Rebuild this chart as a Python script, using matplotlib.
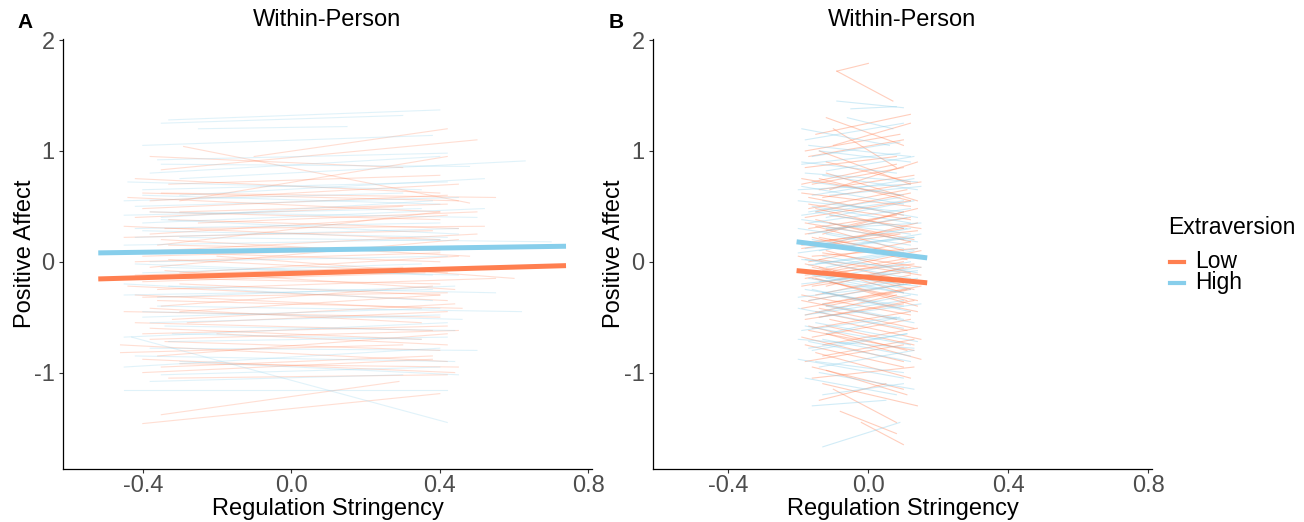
import matplotlib
matplotlib.use("Agg")
import matplotlib.pyplot as plt
from matplotlib.lines import Line2D

plt.rcParams['font.family'] = ['Liberation Sans', 'DejaVu Sans']

LOW = '#FF7F50'
HIGH = '#87CEEB'

# person-level lines: (x0, y0, x1, y1)
a_low = [
    (-0.35, 0.83, 0.50, 1.10), (-0.29, 1.04, 0.48, 0.53), (-0.10, 0.95, 0.42, 1.20),
    (-0.33, 0.70, 0.40, 0.78), (-0.40, 0.62, 0.45, 0.55), (-0.30, 0.55, 0.42, 0.95),
    (-0.38, 0.45, 0.40, 0.38), (-0.42, 0.40, 0.30, 0.50), (-0.34, 0.30, 0.52, 0.32),
    (-0.45, 0.22, 0.38, 0.28), (-0.36, 0.15, 0.40, 0.45), (-0.40, 0.05, 0.35, 0.12),
    (-0.33, 0.02, 0.42, -0.10), (-0.38, -0.05, 0.45, 0.20), (-0.42, -0.12, 0.30, -0.05),
    (-0.30, -0.20, 0.40, -0.30), (-0.36, -0.25, 0.55, -0.15), (-0.40, -0.32, 0.42, -0.28),
    (-0.35, -0.40, 0.38, -0.22), (-0.45, -0.45, 0.40, -0.50), (-0.32, -0.52, 0.44, -0.38),
    (-0.38, -0.60, 0.35, -0.70), (-0.40, -0.65, 0.42, -0.58), (-0.34, -0.72, 0.40, -0.80),
    (-0.46, -0.82, 0.30, -0.75), (-0.36, -0.85, 0.42, -0.65), (-0.30, -0.92, 0.45, -0.95),
    (-0.40, -1.00, 0.38, -0.88), (-0.33, -1.05, 0.42, -1.02), (-0.35, -1.38, 0.29, -1.08),
    (-0.40, -1.46, 0.40, -1.19), (-0.20, 0.05, 0.60, -0.15), (-0.25, 0.35, 0.50, 0.45),
    (-0.45, 0.10, 0.40, 0.00), (-0.30, -0.10, 0.45, 0.05), (-0.38, 0.55, 0.45, 0.70),
    (-0.28, -0.55, 0.42, -0.45), (-0.42, -0.30, 0.35, -0.42), (-0.35, 0.20, 0.48, 0.05),
    (-0.33, -0.15, 0.40, -0.20),
    (-0.38, 0.95, 0.30, 0.85), (-0.42, 0.75, 0.40, 0.62), (-0.35, 0.62, 0.55, 0.58),
    (-0.40, 0.48, 0.42, 0.60), (-0.33, 0.38, 0.45, 0.30), (-0.45, 0.32, 0.40, 0.20),
    (-0.38, 0.25, 0.42, 0.42), (-0.36, 0.10, 0.50, 0.25), (-0.42, 0.00, 0.40, 0.08),
    (-0.34, -0.08, 0.44, -0.25), (-0.40, -0.18, 0.36, -0.10), (-0.44, -0.22, 0.42, -0.35),
    (-0.36, -0.35, 0.46, -0.42), (-0.30, -0.45, 0.40, -0.30), (-0.42, -0.55, 0.38, -0.62),
    (-0.38, -0.70, 0.45, -0.62), (-0.46, -0.75, 0.42, -0.90), (-0.35, -0.95, 0.38, -0.85),
    (-0.40, -0.88, 0.44, -1.00), (-0.33, 0.15, 0.40, 0.10), (-0.30, 0.45, 0.42, 0.52),
    (-0.38, -0.42, 0.35, -0.55), (-0.44, 0.58, 0.40, 0.45), (-0.20, -0.65, 0.42, -0.75),
]
a_high = [
    (-0.33, 1.28, 0.40, 1.37), (-0.35, 1.25, 0.30, 1.32), (-0.40, 1.05, 0.38, 1.14),
    (-0.25, 1.20, 0.15, 1.22), (-0.35, 0.88, 0.48, 0.86), (-0.30, 0.75, 0.63, 0.91),
    (-0.40, 0.65, 0.42, 0.72), (-0.45, 0.55, 0.30, 0.62), (-0.38, 0.45, 0.50, 0.40),
    (-0.35, 0.38, 0.45, 0.25), (-0.42, 0.30, 0.40, 0.35), (-0.30, 0.22, 0.70, 0.18),
    (-0.45, 0.15, 0.40, 0.20), (-0.38, 0.00, 0.42, 0.05), (-0.40, -0.10, 0.35, -0.02),
    (-0.33, -0.22, 0.55, -0.28), (-0.45, -0.30, 0.38, -0.25), (-0.36, -0.40, 0.62, -0.45),
    (-0.40, -0.50, 0.40, -0.42), (-0.34, -0.58, 0.44, -0.62), (-0.45, -0.68, 0.42, -0.55),
    (-0.38, -0.78, 0.50, -0.80), (-0.43, -0.68, 0.42, -1.45), (-0.45, -0.95, 0.40, -0.78),
    (-0.30, -0.90, 0.45, -1.02), (-0.45, -1.16, 0.42, -1.16), (-0.38, 0.80, 0.40, 0.95),
    (-0.42, 0.50, 0.45, 0.58), (-0.35, -0.05, 0.45, -0.12), (-0.40, 0.35, 0.52, 0.48),
    (-0.32, -0.65, 0.35, -0.70), (-0.44, 0.72, 0.35, 0.65),
    (-0.36, 0.92, 0.42, 0.98), (-0.40, 0.60, 0.40, 0.52), (-0.35, 0.40, 0.38, 0.55),
    (-0.42, 0.22, 0.45, 0.30), (-0.38, 0.08, 0.40, 0.12), (-0.33, -0.15, 0.42, -0.08),
    (-0.45, -0.20, 0.38, -0.35), (-0.36, -0.32, 0.44, -0.22), (-0.40, -0.45, 0.46, -0.52),
    (-0.38, -0.55, 0.40, -0.48), (-0.42, -0.85, 0.44, -0.90), (-0.35, -1.02, 0.40, -0.95),
    (-0.40, 0.28, 0.42, 0.22), (-0.33, -0.72, 0.42, -0.68), (-0.45, 0.42, 0.35, 0.48),
    (-0.38, -1.08, 0.30, -1.02), (-0.30, 0.60, 0.52, 0.75), (-0.42, -0.02, 0.38, -0.12),
]
b_low = [
    (-0.09, 1.72, 0.07, 1.45), (-0.09, 1.72, 0.00, 1.79), (-0.12, 1.30, 0.10, 1.05),
    (-0.15, 1.15, 0.12, 1.33), (-0.10, 1.20, 0.08, 0.85), (-0.17, 0.95, 0.10, 1.10),
    (-0.14, 1.00, 0.12, 0.70), (-0.18, 0.85, 0.08, 0.95), (-0.12, 0.80, 0.14, 0.55),
    (-0.16, 0.70, 0.10, 0.85), (-0.19, 0.62, 0.12, 0.50), (-0.13, 0.58, 0.15, 0.72),
    (-0.15, 0.48, 0.10, 0.30), (-0.18, 0.40, 0.12, 0.55), (-0.11, 0.35, 0.13, 0.20),
    (-0.17, 0.30, 0.08, 0.42), (-0.14, 0.22, 0.15, 0.05), (-0.19, 0.15, 0.10, 0.30),
    (-0.12, 0.10, 0.12, -0.10), (-0.16, 0.05, 0.14, 0.12), (-0.18, -0.02, 0.09, -0.20),
    (-0.13, -0.08, 0.15, 0.10), (-0.15, -0.15, 0.11, -0.35), (-0.19, -0.22, 0.12, -0.05),
    (-0.12, -0.28, 0.14, -0.45), (-0.17, -0.35, 0.10, -0.20), (-0.14, -0.42, 0.13, -0.60),
    (-0.18, -0.48, 0.08, -0.30), (-0.11, -0.52, 0.15, -0.70), (-0.16, -0.60, 0.12, -0.45),
    (-0.19, -0.68, 0.10, -0.90), (-0.13, -0.75, 0.14, -0.60), (-0.15, -0.82, 0.12, -1.05),
    (-0.18, -0.90, 0.10, -0.75), (-0.12, -0.98, 0.11, -1.20), (-0.16, -1.05, 0.13, -0.95),
    (-0.10, -1.15, 0.08, -1.45), (-0.14, -1.25, 0.05, -1.10), (-0.02, -1.45, 0.10, -1.65),
    (-0.08, -1.35, 0.08, -1.55), (-0.17, 0.52, 0.12, 0.38), (-0.13, 0.25, 0.10, 0.45),
    (-0.16, -0.05, 0.13, -0.25), (-0.12, -0.40, 0.12, -0.25), (-0.19, 0.75, 0.09, 0.60),
    (-0.14, 0.02, 0.15, -0.12), (-0.17, -0.58, 0.11, -0.80), (-0.11, 0.65, 0.14, 0.90),
    (-0.18, -0.15, 0.10, 0.00), (-0.15, 0.38, 0.12, 0.18), (-0.13, -0.85, 0.13, -0.70),
    (-0.10, 1.05, 0.12, 1.25), (-0.16, 0.18, 0.14, 0.28), (-0.19, -0.35, 0.08, -0.52),
    (-0.12, -0.65, 0.15, -0.88),
    (-0.15, 0.45, 0.12, 0.62), (-0.18, 0.35, 0.10, 0.20), (-0.12, 0.28, 0.14, 0.48),
    (-0.16, 0.22, 0.11, 0.02), (-0.19, 0.12, 0.09, 0.25), (-0.13, 0.08, 0.15, -0.05),
    (-0.17, 0.00, 0.12, 0.18), (-0.14, -0.05, 0.10, -0.28), (-0.18, -0.12, 0.13, -0.02),
    (-0.11, -0.18, 0.14, -0.40), (-0.16, -0.22, 0.09, -0.10), (-0.19, -0.30, 0.12, -0.48),
    (-0.13, -0.38, 0.15, -0.22), (-0.15, -0.45, 0.11, -0.62), (-0.18, -0.52, 0.10, -0.38),
    (-0.12, -0.58, 0.13, -0.75), (-0.17, 0.58, 0.10, 0.42), (-0.14, 0.65, 0.13, 0.78),
    (-0.19, 0.70, 0.08, 0.88), (-0.11, 0.42, 0.15, 0.30), (-0.16, -0.68, 0.12, -0.52),
    (-0.18, -0.75, 0.10, -0.95), (-0.13, 0.15, 0.14, 0.35), (-0.15, -0.30, 0.12, -0.12),
    (-0.20, 0.05, 0.08, -0.15), (-0.10, -0.08, 0.15, 0.05), (-0.17, 0.48, 0.11, 0.65),
    (-0.14, -0.50, 0.13, -0.35), (-0.12, 0.90, 0.12, 0.72), (-0.16, -0.95, 0.10, -1.15),
    (-0.18, 1.00, 0.09, 1.15), (-0.13, -1.10, 0.14, -1.30), (-0.15, 0.32, 0.10, 0.10),
    (-0.19, -0.42, 0.11, -0.25), (-0.11, 0.20, 0.13, 0.05), (-0.16, -0.15, 0.14, -0.35),
    (-0.14, 0.75, 0.12, 0.55), (-0.17, -0.62, 0.13, -0.80), (-0.12, -0.22, 0.10, -0.05),
    (-0.18, 0.25, 0.12, 0.40),
]
b_high = [
    (-0.09, 1.45, 0.10, 1.39), (-0.05, 1.38, 0.08, 1.40), (-0.18, 1.10, 0.10, 1.25),
    (-0.14, 1.00, 0.12, 0.90), (-0.19, 0.90, 0.08, 0.80), (-0.12, 0.82, 0.13, 0.95),
    (-0.16, 0.72, 0.10, 0.60), (-0.20, 0.65, 0.12, 0.70), (-0.13, 0.55, 0.14, 0.40),
    (-0.17, 0.45, 0.09, 0.58), (-0.19, 0.38, 0.12, 0.25), (-0.12, 0.30, 0.15, 0.35),
    (-0.16, 0.20, 0.10, 0.05), (-0.18, 0.12, 0.13, 0.22), (-0.13, 0.05, 0.14, -0.10),
    (-0.17, -0.03, 0.10, 0.08), (-0.19, -0.10, 0.12, -0.25), (-0.14, -0.18, 0.15, -0.05),
    (-0.16, -0.25, 0.09, -0.42), (-0.20, -0.32, 0.12, -0.20), (-0.12, -0.40, 0.13, -0.55),
    (-0.18, -0.48, 0.10, -0.35), (-0.15, -0.55, 0.14, -0.72), (-0.19, -0.62, 0.08, -0.50),
    (-0.13, -0.70, 0.12, -0.85), (-0.17, -0.78, 0.11, -0.65), (-0.20, -0.88, 0.10, -1.05),
    (-0.14, -0.95, 0.13, -0.80), (-0.18, -1.05, 0.08, -1.20), (-0.13, -1.20, 0.10, -1.10),
    (-0.13, -1.67, 0.09, -1.45), (-0.20, 0.55, 0.10, 0.45), (-0.15, 0.15, 0.12, 0.30),
    (-0.17, -0.15, 0.14, -0.30), (-0.11, 0.60, 0.15, 0.68), (-0.19, 0.02, 0.11, -0.05),
    (-0.14, -0.45, 0.12, -0.30), (-0.16, 0.95, 0.09, 1.08), (-0.20, -0.70, 0.13, -0.78),
    (-0.12, 0.25, 0.10, 0.12), (-0.18, 0.80, 0.14, 0.72), (-0.15, -0.90, 0.10, -1.00),
    (-0.17, 0.35, 0.12, 0.48), (-0.13, -0.28, 0.14, -0.15), (-0.19, 1.20, 0.06, 1.05),
    (-0.16, 0.50, 0.12, 0.35), (-0.19, 0.42, 0.10, 0.55), (-0.13, 0.32, 0.14, 0.18),
    (-0.17, 0.25, 0.11, 0.40), (-0.20, 0.18, 0.09, 0.05), (-0.14, 0.10, 0.15, 0.25),
    (-0.18, 0.02, 0.12, -0.15), (-0.12, -0.05, 0.13, 0.10), (-0.16, -0.12, 0.10, -0.28),
    (-0.19, -0.20, 0.14, -0.08), (-0.13, -0.28, 0.12, -0.45), (-0.17, -0.35, 0.11, -0.20),
    (-0.20, -0.42, 0.10, -0.60), (-0.14, -0.50, 0.15, -0.38), (-0.18, -0.58, 0.12, -0.75),
    (-0.12, -0.65, 0.09, -0.50), (-0.16, 0.60, 0.13, 0.75), (-0.19, 0.68, 0.10, 0.52),
    (-0.13, 0.78, 0.14, 0.65), (-0.17, -0.72, 0.12, -0.90), (-0.20, 0.30, 0.12, 0.15),
    (-0.15, -0.02, 0.14, 0.12), (-0.18, -0.25, 0.10, -0.40), (-0.12, 0.40, 0.13, 0.55),
    (-0.16, -0.80, 0.11, -0.65), (-0.19, 0.88, 0.09, 0.98), (-0.14, -1.00, 0.13, -1.15),
    (-0.17, 1.05, 0.12, 0.95), (-0.13, -0.38, 0.10, -0.52), (-0.20, 0.08, 0.13, 0.22),
    (-0.15, 0.45, 0.11, 0.30), (-0.18, -0.10, 0.14, -0.22), (-0.06, 1.30, 0.07, 1.20),
    (-0.16, -1.30, 0.05, -1.25), (-0.12, -0.15, 0.12, 0.00),
]

# group-level fitted lines
fit_x_a = [-0.52, 0.74]
fit_low_a = [-0.155, -0.035]
fit_high_a = [0.08, 0.14]
fit_x_b = [-0.205, 0.168]
fit_low_b = [-0.08, -0.19]
fit_high_b = [0.18, 0.035]

xticks = [-0.4, 0.0, 0.4, 0.8]
yticks = [-1, 0, 1, 2]
groups = ['Low', 'High']

fig = plt.figure(figsize=(13.04, 5.22), dpi=100)
axA = fig.add_axes([63/1304, 53/522, 529/1304, 430/522])
axB = fig.add_axes([653/1304, 53/522, 499/1304, 430/522])


def draw(ax, low, high, fx, flow, fhigh, alpha):
    for x0, y0, x1, y1 in low:
        ax.plot([x0, x1], [y0, y1], color=LOW, lw=0.8, alpha=alpha)
    for x0, y0, x1, y1 in high:
        ax.plot([x0, x1], [y0, y1], color=HIGH, lw=0.8, alpha=alpha)
    ax.plot(fx, fhigh, color=HIGH, lw=3.6, solid_capstyle='butt')
    ax.plot(fx, flow, color=LOW, lw=3.6, solid_capstyle='butt')
    ax.set_xlim(-0.615, 0.81)
    ax.set_ylim(-1.87, 2.01)
    ax.set_xticks(xticks)
    ax.set_xticklabels(['-0.4', '0.0', '0.4', '0.8'])
    ax.set_yticks(yticks)
    ax.set_yticklabels(['-1', '0', '1', '2'])
    ax.tick_params(labelsize=17, labelcolor='#4D4D4D', color='#333333',
                   length=3, width=0.8, pad=3)
    ax.tick_params(axis='x', pad=1)
    for s in ['top', 'right']:
        ax.spines[s].set_visible(False)
    for s in ['left', 'bottom']:
        ax.spines[s].set_linewidth(0.9)
        ax.spines[s].set_color('black')
    ax.set_xlabel('Regulation Stringency', fontsize=17)
    ax.set_ylabel('Positive Affect', fontsize=17)
    ax.xaxis.set_label_coords(0.5, -0.092)
    ax.xaxis.label.set_va('center')
    ax.yaxis.label.set_va('center')


draw(axA, a_low, a_high, fit_x_a, fit_low_a, fit_high_a, 0.25)
draw(axB, b_low, b_high, fit_x_b, fit_low_b, fit_high_b, 0.38)
axA.yaxis.set_label_coords(-0.072, 0.5)
axB.yaxis.set_label_coords(-0.078, 0.5)

fig.text(327/1304, 1 - 20/522, 'Within-Person', fontsize=17, ha='center', va='center')
fig.text(902/1304, 1 - 20/522, 'Within-Person', fontsize=17, ha='center', va='center')
fig.text(25/1304, 1 - 22/522, 'A', fontsize=15, fontweight='bold', ha='center', va='center')
fig.text(616/1304, 1 - 22/522, 'B', fontsize=15, fontweight='bold', ha='center', va='center')

# legend
fig.text(1168/1304, 1 - 228/522, 'Extraversion', fontsize=16.5, ha='left', va='center')
for i, (name, col) in enumerate(zip(groups, [LOW, HIGH])):
    yy = 1 - (262 + 21 * i) / 522
    fig.add_artist(Line2D([1170/1304, 1184/1304], [yy, yy], color=col, lw=3,
                          transform=fig.transFigure))
    fig.text(1195/1304, yy, name, fontsize=16.5, ha='left', va='center')

fig.savefig('out.png', dpi=100)
